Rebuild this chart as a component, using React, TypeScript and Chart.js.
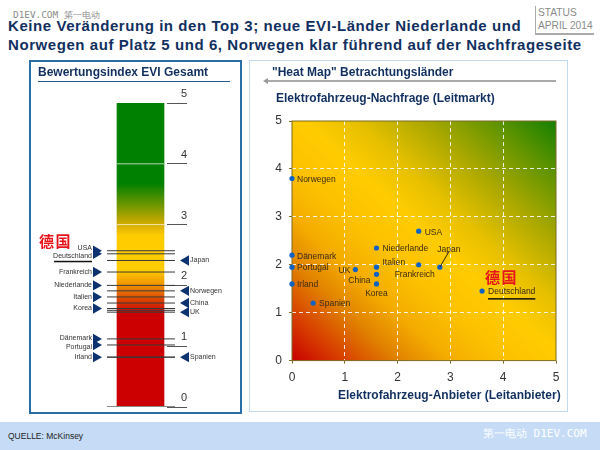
import { useEffect, useRef } from 'react';
import { Chart, registerables } from 'chart.js';

Chart.register(...registerables);

// left chart: EVI overall score
const scaleTop = [5];
const evMax = 5;
const barTicks = [3, 4];
const leftCountries = ['USA', 'Deutschland', 'Frankreich', 'Niederlande', 'Italien', 'Korea', 'Dänemark', 'Portugal', 'Irland'];
const leftScores = [2.57, 2.52, 2.22, 2.0, 1.81, 1.62, 1.12, 1.02, 0.82];
const rightCountries = ['Japan', 'Norwegen', 'China', 'UK', 'Spanien'];
const rightScores = [2.41, 1.91, 1.71, 1.56, 0.82];
const unnamedScores = [1.59];

// right chart: heat map
const countries = ['USA', 'Niederlande', 'Dänemark', 'Portugal', 'UK', 'Italien', 'China', 'Korea', 'Frankreich', 'Japan', 'Irland', 'Spanien', 'Deutschland', 'Norwegen'];
const supply = [2.4, 1.6, 0, 0, 1.2, 1.6, 1.6, 1.6, 2.4, 2.8, 0, 0.4, 3.6, 0];
const demand = [2.7, 2.35, 2.2, 1.95, 1.9, 1.95, 1.8, 1.6, 2.0, 1.95, 1.6, 1.2, 1.45, 3.8];
const japanLeader = [[2.8, 1.95], [2.97, 2.27]];

// label placement, px relative to the mark: [dx, dy, align]
const heatLabelPos: Record<string, [number, number, CanvasTextAlign]> = {
  USA: [6, 1, 'left'],
  Niederlande: [6, 1, 'left'],
  'Dänemark': [5, 1, 'left'],
  Portugal: [5, 1, 'left'],
  UK: [-5, 1, 'right'],
  Italien: [6, -4, 'left'],
  China: [-6, 6, 'right'],
  Korea: [0, 10, 'center'],
  Frankreich: [-4, 10, 'center'],
  Japan: [9, -17, 'center'],
  Irland: [5, 1, 'left'],
  Spanien: [6, 1, 'left'],
  Deutschland: [6, 1, 'left'],
  Norwegen: [5, 1, 'left'],
};
const leftLabelDy: Record<string, number> = { USA: -3, Deutschland: 2, 'Dänemark': -1, Portugal: 2 };

// x columns of the left chart, in page px
const BAR_X = 140.5;
const BAR_WIDTH = 47;
const LINE_FROM = 107;
const LINE_TO = 175;
const MARK_LEFT = 96;
const MARK_RIGHT = 186;
const AXIS_X = 187;

const BLUE = '#12305f';
const FONT = '"Liberation Sans", Arial, sans-serif';

const scoreLines = (values: number[], from = LINE_FROM, to = LINE_TO, color = '#3a3a3a', width = 1) =>
  values.map(v => ({
    type: 'scatter' as const,
    data: [{ x: from, y: v }, { x: to, y: v }],
    showLine: true,
    borderColor: color,
    borderWidth: width,
    pointRadius: 0,
  }));

const scoreGradient = (c: any) => {
  const area = c.chart.chartArea;
  if (!area) return '#ffcc00';
  const g = c.chart.ctx.createLinearGradient(0, area.bottom, 0, area.top);
  g.addColorStop(0, '#cc0000');
  g.addColorStop(0.31, '#cc0000');
  g.addColorStop(0.4, '#ee9000');
  g.addColorStop(0.45, '#ffcc00');
  g.addColorStop(0.565, '#ffcc00');
  g.addColorStop(0.6, '#d4ac00');
  g.addColorStop(0.735, '#008000');
  g.addColorStop(1, '#008000');
  return g;
};

const leftLabels = {
  id: 'leftLabels',
  afterDatasetsDraw(chart: any) {
    const { ctx, scales } = chart;
    ctx.save();
    ctx.font = `7px ${FONT}`;
    ctx.fillStyle = '#333';
    ctx.textBaseline = 'middle';
    ctx.textAlign = 'right';
    const right = scales.x.getPixelForValue(MARK_LEFT - 4);
    leftCountries.forEach((name, i) => {
      const y = scales.y.getPixelForValue(leftScores[i]) + (leftLabelDy[name] ?? 0);
      ctx.fillText(name, right, y);
      if (name === 'Deutschland') {
        ctx.fillStyle = '#111';
        ctx.fillRect(right - 38, y + 5, 38, 1.5);
        ctx.fillStyle = '#333';
      }
    });
    ctx.textAlign = 'left';
    const left = scales.x.getPixelForValue(MARK_RIGHT + 4);
    rightCountries.forEach((name, i) => {
      ctx.fillText(name, left, scales.y.getPixelForValue(rightScores[i]));
    });
    ctx.restore();
  },
};

const heatBackground = {
  id: 'heatBackground',
  beforeDraw(chart: any) {
    const { ctx, chartArea: a } = chart;
    const w = a.right - a.left;
    const h = a.bottom - a.top;
    // gradient normal to the top-left / bottom-right diagonal
    const len = Math.hypot(w, h);
    const cx = a.left + w / 2;
    const cy = a.top + h / 2;
    const dx = (h / len) * (w * h / len);
    const dy = (w / len) * (w * h / len);
    const g = ctx.createLinearGradient(cx - dx, cy + dy, cx + dx, cy - dy);
    g.addColorStop(0, '#c80000');
    g.addColorStop(0.1, '#d84000');
    g.addColorStop(0.2, '#e08000');
    g.addColorStop(0.3, '#f4ac00');
    g.addColorStop(0.4, '#fcc000');
    g.addColorStop(0.52, '#ffcc00');
    g.addColorStop(0.62, '#e6c000');
    g.addColorStop(0.75, '#aaa800');
    g.addColorStop(0.88, '#609400');
    g.addColorStop(1, '#148000');
    ctx.fillStyle = g;
    ctx.fillRect(a.left, a.top, w, h);
  },
  beforeDatasetsDraw(chart: any) {
    const { ctx, chartArea: a } = chart;
    ctx.save();
    ctx.strokeStyle = '#7d6a22';
    ctx.lineWidth = 1;
    ctx.strokeRect(a.left, a.top, a.right - a.left, a.bottom - a.top);
    ctx.restore();
  },
};

const heatLabels = {
  id: 'heatLabels',
  afterDatasetsDraw(chart: any) {
    const { ctx, scales } = chart;
    ctx.save();
    ctx.font = `8.5px ${FONT}`;
    ctx.fillStyle = '#3a2a10';
    ctx.textBaseline = 'middle';
    countries.forEach((name, i) => {
      const [dx, dy, align] = heatLabelPos[name];
      const x = scales.x.getPixelForValue(supply[i]) + dx;
      const y = scales.y.getPixelForValue(demand[i]) + dy;
      ctx.textAlign = align;
      ctx.fillText(name, x, y);
      if (name === 'Deutschland') {
        ctx.fillStyle = '#111';
        ctx.fillRect(x, y + 6, ctx.measureText(name).width, 1.5);
        ctx.fillStyle = '#3a2a10';
      }
    });
    ctx.restore();
  },
};

function ScoreChart() {
  const ref = useRef<HTMLCanvasElement>(null);
  useEffect(() => {
    const chart = new Chart(ref.current!, {
      type: 'bar',
      data: {
        datasets: [
          {
            data: scaleTop.map(v => ({ x: BAR_X, y: v })),
            backgroundColor: scoreGradient,
            barThickness: BAR_WIDTH,
            order: 1, // behind the score lines
          } as any,
          ...scoreLines(barTicks, BAR_X - BAR_WIDTH / 2, BAR_X + BAR_WIDTH / 2, 'rgba(255,255,255,0.7)'),
          ...scoreLines([0], LINE_FROM, LINE_TO, '#8a8a8a', 2),
          ...scoreLines(leftScores),
          ...scoreLines(rightScores),
          ...scoreLines(unnamedScores),
          {
            type: 'scatter',
            data: leftScores.map(v => ({ x: MARK_LEFT, y: v })),
            pointStyle: 'triangle',
            rotation: 90,
            radius: 6,
            backgroundColor: '#0d3270',
            borderWidth: 0,
          },
          {
            type: 'scatter',
            data: rightScores.map(v => ({ x: MARK_RIGHT, y: v })),
            pointStyle: 'triangle',
            rotation: -90,
            radius: 6,
            backgroundColor: '#0d3270',
            borderWidth: 0,
          },
        ] as any,
      },
      options: {
        responsive: false,
        animation: false,
        layout: { autoPadding: false, padding: { top: 42, bottom: 6 } },
        plugins: { legend: { display: false }, tooltip: { enabled: false } },
        scales: {
          x: { type: 'linear', display: false, offset: false, min: 29, max: 241 },
          y: {
            // ticks run left from this position, the labels end at the same x
            position: { x: AXIS_X },
            min: 0,
            max: evMax,
            grid: { color: 'transparent', tickColor: '#555', tickLength: 20 },
            border: { display: false },
            ticks: {
              stepSize: 1,
              padding: -21,
              labelOffset: -9,
              color: '#333',
              font: { family: FONT, size: 11 },
            },
          },
        } as any,
      },
      plugins: [leftLabels],
    });
    return () => chart.destroy();
  }, []);
  return <canvas ref={ref} width={212} height={352} style={{ position: 'absolute', left: 29, top: 61 }} />;
}

function HeatChart() {
  const ref = useRef<HTMLCanvasElement>(null);
  useEffect(() => {
    const chart = new Chart(ref.current!, {
      type: 'scatter',
      data: {
        datasets: [
          {
            data: japanLeader.map(([x, y]) => ({ x, y })),
            showLine: true,
            borderColor: '#3a2a10',
            borderWidth: 1,
            pointRadius: 0,
          },
          {
            data: supply.map((x, i) => ({ x, y: demand[i] })),
            backgroundColor: '#0f62c4',
            borderWidth: 0,
            pointRadius: 2.6,
            clip: false,
          },
        ],
      },
      options: {
        responsive: false,
        animation: false,
        layout: { padding: { top: 60, right: 13, bottom: 21 } },
        plugins: { legend: { display: false }, tooltip: { enabled: false } },
        scales: {
          x: {
            type: 'linear',
            min: 0,
            max: 5,
            grid: {
              color: c => (c.tick.value === 0 || c.tick.value === 5 ? 'transparent' : 'rgba(255,255,255,0.85)'),
              tickColor: '#7d6a22',
              tickLength: 3,
            },
            border: { display: false, dash: [4, 3] },
            ticks: { stepSize: 1, padding: 7, maxRotation: 0, color: '#333', font: { family: FONT, size: 12 } },
          },
          y: {
            min: 0,
            max: 5,
            afterFit: (s: any) => { s.width = 43; },
            grid: {
              color: c => (c.tick.value === 0 || c.tick.value === 5 ? 'transparent' : 'rgba(255,255,255,0.85)'),
              tickColor: '#7d6a22',
              tickLength: 3,
            },
            border: { display: false, dash: [4, 3] },
            ticks: { stepSize: 1, padding: 7, color: '#333', font: { family: FONT, size: 12 } },
          },
        },
      },
      plugins: [heatBackground, heatLabels],
    });
    return () => chart.destroy();
  }, []);
  return <canvas ref={ref} width={320} height={352} style={{ position: 'absolute', left: 249, top: 61 }} />;
}

const label = (left: number, top: number, style: React.CSSProperties = {}): React.CSSProperties => ({
  position: 'absolute',
  left,
  top,
  whiteSpace: 'nowrap',
  fontFamily: FONT,
  lineHeight: 1,
  ...style,
});

const redCjk: React.CSSProperties = {
  fontFamily: '"Noto Sans CJK SC"',
  fontWeight: 700,
  fontSize: 15,
  letterSpacing: 1.5,
  color: '#e8141c',
};

export default function App() {
  return (
    <div style={{ position: 'relative', width: 600, height: 450, overflow: 'hidden', background: '#fff' }}>
      <style>{'body{margin:0}'}</style>

      <div style={label(8, 18, { fontSize: 15, fontWeight: 700, color: BLUE, letterSpacing: 0.57 })}>
        Keine Veränderung in den Top 3; neue EVI-Länder Niederlande und
      </div>
      <div style={label(8, 37, { fontSize: 15, fontWeight: 700, color: BLUE, letterSpacing: 0.57 })}>
        Norwegen auf Platz 5 und 6, Norwegen klar führend auf der Nachfrageseite
      </div>
      <div style={label(13, 10, { fontFamily: '"DejaVu Sans Mono"', fontSize: 9.4, color: '#8b8b8b' })}>
        D1EV.COM 第一电动
      </div>

      <div style={{ position: 'absolute', left: 535, top: 6, width: 58, height: 27, borderLeft: '1px solid #aaa', borderBottom: '2px solid #aaa' }} />
      <div style={label(538, 8, { fontSize: 10.2, color: '#8a8a8a' })}>STATUS</div>
      <div style={label(538, 21, { fontSize: 10.2, color: '#8a8a8a' })}>APRIL 2014</div>

      <div style={{ position: 'absolute', left: 29, top: 60, width: 209, height: 350, border: '2px solid #2a6ea8' }} />
      <div style={{ position: 'absolute', left: 249, top: 60, width: 317, height: 350, border: '1.5px solid #c4dcf2' }} />

      <ScoreChart />
      <HeatChart />

      <div style={label(38, 66, { fontSize: 12, fontWeight: 700, color: BLUE })}>Bewertungsindex EVI Gesamt</div>
      <div style={{ position: 'absolute', left: 38, top: 81, width: 192, height: 1, background: '#2a5a8c' }} />

      <div style={label(272, 66, { fontSize: 12, fontWeight: 700, color: BLUE })}>"Heat Map" Betrachtungsländer</div>
      <div style={{ position: 'absolute', left: 267, top: 80, width: 289, height: 2, background: '#aaa' }} />
      <div style={{ position: 'absolute', left: 263, top: 78, width: 0, height: 0, borderTop: '3px solid transparent', borderBottom: '3px solid transparent', borderRight: '5px solid #999' }} />

      <div style={label(276, 92, { fontSize: 12, fontWeight: 700, color: BLUE })}>Elektrofahrzeug-Nachfrage (Leitmarkt)</div>
      <div style={label(338, 389, { fontSize: 12, fontWeight: 700, color: BLUE })}>Elektrofahrzeug-Anbieter (Leitanbieter)</div>

      <div style={label(39, 233, redCjk)}>德国</div>
      <div style={label(485, 269, redCjk)}>德国</div>

      <div style={{ position: 'absolute', left: 0, top: 422, width: 600, height: 28, background: '#c6dcf6' }} />
      <div style={label(8, 432, { fontSize: 8.5, color: '#222' })}>QUELLE: McKinsey</div>
      <div style={label(483, 428, { fontFamily: '"DejaVu Sans Mono"', fontSize: 11, color: '#fff' })}>第一电动 D1EV.COM</div>
    </div>
  );
}
